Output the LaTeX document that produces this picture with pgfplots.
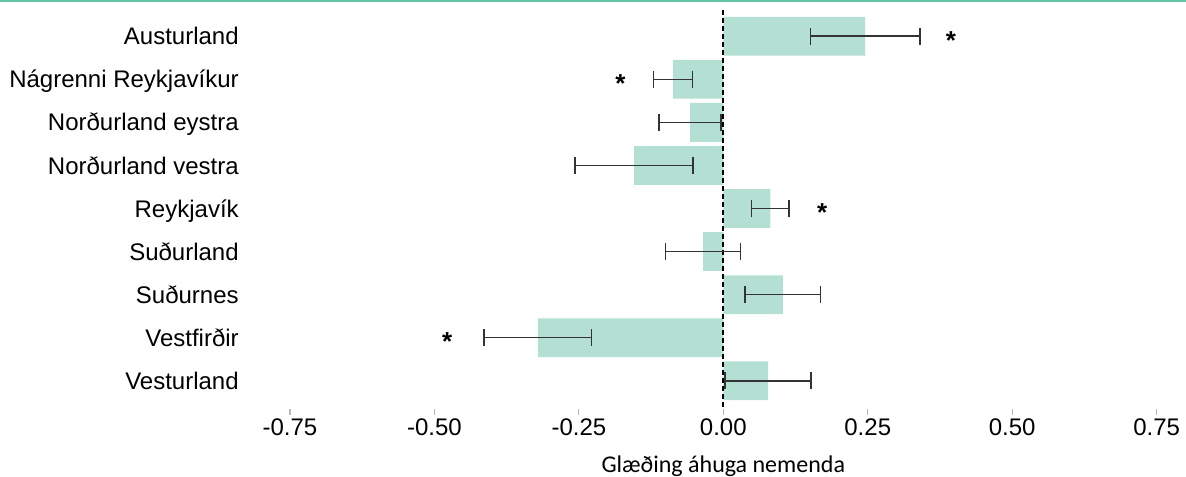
\documentclass[border=0pt]{standalone}
\usepackage{pgfplots}
\pgfplotsset{compat=1.18}
\usepackage{fontspec}
\setmainfont{Liberation Sans}
\newfontfamily\calibri{Carlito}
\definecolor{barfill}{RGB}{179,224,211}
\definecolor{topline}{RGB}{102,196,166}
\begin{document}
\begin{tikzpicture}
\useasboundingbox (-130.55bp,-35.2bp) rectangle (462.45bp,203.3bp);
\begin{axis}[
  at={(0,0)}, anchor=south west,
  scale only axis, width=462.2bp, height=198.1bp,
  xmin=-0.8, xmax=0.8, ymin=0.4, ymax=9.6,
  axis line style={draw=none},
  xtick={-0.75,-0.5,-0.25,0,0.25,0.5,0.75},
  xticklabels={-0.75,-0.50,-0.25,0.00,0.25,0.50,0.75},
  ytick={1,2,3,4,5,6,7,8,9},
  yticklabels={Vesturland,Vestfirðir,Suðurnes,Suðurland,Reykjavík,Norðurland vestra,Norðurland eystra,Nágrenni Reykjavíkur,Austurland},
  tick align=outside,
  xtick pos=bottom, ytick pos=left,
  major tick length=3bp,
  xtick style={draw=gray!55, line width=0.6bp, yshift=-1bp},
  ytick style={draw=none},
  /pgf/number format/assume math mode=true,
  xticklabel style={font=\fontsize{12bp}{14bp}\selectfont, anchor=base, yshift=-11.2bp},
  yticklabel style={font=\fontsize{12bp}{14bp}\selectfont, anchor=base east, inner sep=0pt, yshift=-4.3bp, xshift=-8bp},
  xlabel={Glæðing áhuga nemenda},
  xlabel style={at={(axis description cs:0.5,0)}, anchor=base, yshift=-32.7bp, font=\fontsize{12bp}{14bp}\selectfont\calibri},
  clip=false,
]
\addplot[xbar, bar width=0.9, fill=barfill, draw=none, bar shift=0pt] coordinates {
  (0.2455,9) (-0.087,8) (-0.0575,7) (-0.1545,6) (0.0815,5) (-0.035,4) (0.103,3) (-0.321,2) (0.0775,1)};
\addplot[black, line width=0.85bp, dash pattern=on 2.5bp off 1.5bp, mark=none] coordinates {(0,0.4) (0,9.6)};
\addplot[draw=none, mark=none,
  error bars/.cd, x dir=both, x explicit,
  error mark=|,
  error mark options={draw=black!80, line width=0.8bp, mark size=4.25bp},
  error bar style={draw=black!80, line width=0.8bp}]
  table[x=c, y=y, x error=e] {
  c        e       y
  0.2455   0.0945  9
  -0.087   0.034   8
  -0.0575  0.0535  7
  -0.1545  0.1025  6
  0.0815   0.0325  5
  -0.035   0.065   4
  0.103    0.065   3
  -0.321   0.093   2
  0.0775   0.0745  1
};
\addplot[draw=none, mark=none, nodes near coords={\bfseries *},
  every node near coord/.style={anchor=base, yshift=-6.4bp, inner sep=0pt, font=\fontsize{13bp}{15bp}\selectfont}]
  coordinates {(0.394,9) (-0.178,8) (0.171,5) (-0.478,2)};
\end{axis}
\draw[topline, line width=2bp] (-130.55bp,203.3bp) -- (462.45bp,203.3bp);
\end{tikzpicture}
\end{document}
